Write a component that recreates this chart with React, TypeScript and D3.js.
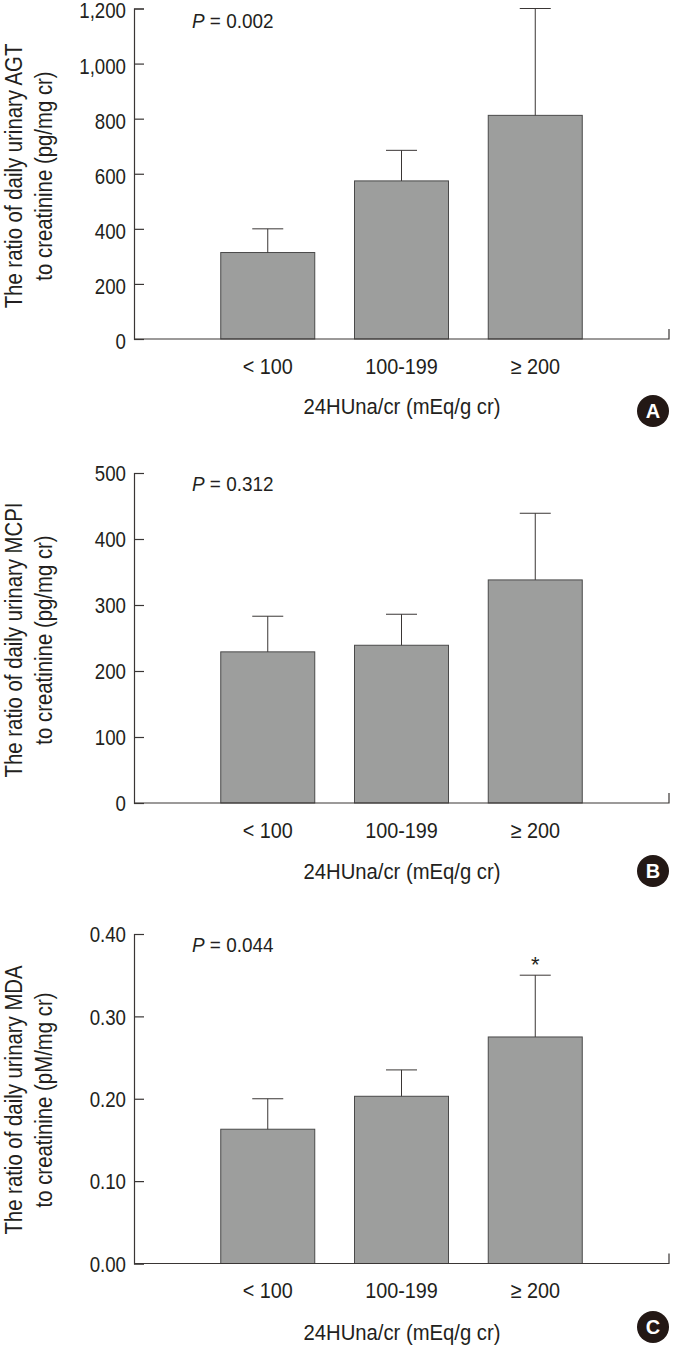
import React, { useEffect, useRef } from "react";
import * as d3 from "d3";

const categories = ["< 100", "100-199", "≥ 200"];
const xTitle = "24HUna/cr (mEq/g cr)";

const ticksA = [0, 200, 400, 600, 800, 1000, 1200];
const meansA = [314, 574, 812];
const upperA = [400, 685, 1200];

const ticksB = [0, 100, 200, 300, 400, 500];
const meansB = [229, 239, 338];
const upperB = [283, 286, 439];

const ticksC = [0, 0.1, 0.2, 0.3, 0.4];
const meansC = [0.163, 0.203, 0.275];
const upperC = [0.2, 0.235, 0.35];

const FONT = "'Liberation Sans', Arial, sans-serif";
const INK = "#3a3635";
const TEXT = "#231f20";

// no narrow face installed, so squeeze the glyphs horizontally
const squeeze = (sel: any, k: number) => {
  sel.each(function (this: any) {
    const len = this.getComputedTextLength();
    this.setAttribute("textLength", len * k);
    this.setAttribute("lengthAdjust", "spacingAndGlyphs");
  });
};

const App = () => {
  const ref = useRef<SVGSVGElement>(null);

  useEffect(() => {
    const svg = d3.select(ref.current);
    svg.selectAll("*").remove();

    const drawPanel = (opts: any) => {
      const { ticks, means, upper, fmt, top, bottom, pText, pY, line1, line2, letter, letterY, titleY, catY, star, labelCy, tickDy } = opts;

      const y = d3.scaleLinear().domain([0, ticks[ticks.length - 1]]).range([bottom, top]);
      const x = d3.scalePoint<string>().domain(["_l", ...categories, "_r"]).range([134, 669]);
      const barW = 94;
      const capW = 31;

      const g = svg.append("g");

      // bars
      g.selectAll(".bar")
        .data(means)
        .join("rect")
        .attr("x", (d, i) => x(categories[i])! - barW / 2)
        .attr("width", barW)
        .attr("y", d => y(d as number))
        .attr("height", d => bottom - y(d as number))
        .attr("fill", "#9d9e9d")
        .attr("stroke", "#4a4a4a")
        .attr("stroke-width", 1);

      // error bars
      g.selectAll(".err")
        .data(upper)
        .join("line")
        .attr("x1", (d, i) => x(categories[i])!)
        .attr("x2", (d, i) => x(categories[i])!)
        .attr("y1", (d, i) => y(means[i]))
        .attr("y2", d => y(d as number))
        .attr("stroke", INK);
      g.selectAll(".cap")
        .data(upper)
        .join("line")
        .attr("x1", (d, i) => x(categories[i])! - capW / 2)
        .attr("x2", (d, i) => x(categories[i])! + capW / 2)
        .attr("y1", d => y(d as number))
        .attr("y2", d => y(d as number))
        .attr("stroke", INK);

      // y axis, ticks point inwards
      const yAxis = g.append("g")
        .attr("transform", "translate(134,0)")
        .call(d3.axisLeft(y).tickValues(ticks).tickSize(-10).tickPadding(8).tickFormat(fmt));
      yAxis.selectAll("path, line").attr("stroke", INK).attr("stroke-width", 1.2);
      const tickText = yAxis.selectAll("text")
        .attr("fill", TEXT)
        .attr("dy", tickDy)
        .style("font-family", FONT)
        .style("font-size", "22.5px");
      squeeze(tickText, 0.83);

      // x axis
      g.append("path")
        .attr("d", d3.line()([[134, bottom], [669, bottom], [669, bottom - 10]]))
        .attr("fill", "none")
        .attr("stroke", INK)
        .attr("stroke-width", 1.2);

      const catText = g.selectAll(".cat")
        .data(categories)
        .join("text")
        .attr("x", d => x(d)!)
        .attr("y", catY)
        .attr("text-anchor", "middle")
        .attr("fill", TEXT)
        .style("font-family", FONT)
        .style("font-size", "22px")
        .text(d => d);
      squeeze(catText, 0.9);

      const title = g.append("text")
        .attr("x", 402)
        .attr("y", titleY)
        .attr("text-anchor", "middle")
        .attr("fill", TEXT)
        .style("font-family", FONT)
        .style("font-size", "22.5px")
        .text(xTitle);
      squeeze(title, 0.9);

      // y title, two lines
      [line1, line2].forEach((t: string, i: number) => {
        const yt = g.append("text")
          .attr("transform", `translate(${i === 0 ? 22 : 52},${labelCy}) rotate(-90)`)
          .attr("text-anchor", "middle")
          .attr("fill", TEXT)
          .style("font-family", FONT)
          .style("font-size", "23px")
          .text(t);
        squeeze(yt, 0.885);
      });

      // p value
      const p = g.append("text")
        .attr("x", 192)
        .attr("y", pY)
        .attr("fill", TEXT)
        .style("font-family", FONT)
        .style("font-size", "21px");
      p.append("tspan").style("font-style", "italic").text("P");
      p.append("tspan").text(` = ${pText}`);
      squeeze(p, 0.9);

      if (star) {
        g.append("text")
          .attr("x", x(categories[2])!)
          .attr("y", y(upper[2]) - 3)
          .attr("text-anchor", "middle")
          .attr("fill", TEXT)
          .style("font-family", FONT)
          .style("font-size", "22px")
          .text("*");
      }

      // panel letter
      g.append("circle").attr("cx", 653).attr("cy", letterY).attr("r", 16).attr("fill", "#231815");
      g.append("text")
        .attr("x", 653)
        .attr("y", letterY + 7)
        .attr("text-anchor", "middle")
        .attr("fill", "#fff")
        .style("font-family", FONT)
        .style("font-weight", "bold")
        .style("font-size", "20px")
        .text(letter);
    };

    drawPanel({
      ticks: ticksA, means: meansA, upper: upperA, fmt: d3.format(","),
      top: 8.5, bottom: 339, pText: "0.002", pY: 28, tickDy: "0.42em",
      line1: "The ratio of daily urinary AGT", line2: "to creatinine (pg/mg cr)",
      letter: "A", letterY: 411, titleY: 414, catY: 374, labelCy: 176,
    });
    drawPanel({
      ticks: ticksB, means: meansB, upper: upperB, fmt: d3.format("d"),
      top: 473, bottom: 803, pText: "0.312", pY: 491, tickDy: "0.34em",
      line1: "The ratio of daily urinary MCPI", line2: "to creatinine (pg/mg cr)",
      letter: "B", letterY: 871, titleY: 879, catY: 838, labelCy: 640,
    });
    drawPanel({
      ticks: ticksC, means: meansC, upper: upperC, fmt: d3.format(".2f"),
      top: 934, bottom: 1263.5, pText: "0.044", pY: 952, tickDy: "0.34em",
      line1: "The ratio of daily urinary MDA", line2: "to creatinine (pM/mg cr)",
      letter: "C", letterY: 1327, titleY: 1340, catY: 1298, labelCy: 1100, star: true,
    });
  }, []);

  return <svg ref={ref} width={674} height={1347} style={{ position: "absolute", left: 0, top: 0, background: "#fff" }} />;
};

export default App;
